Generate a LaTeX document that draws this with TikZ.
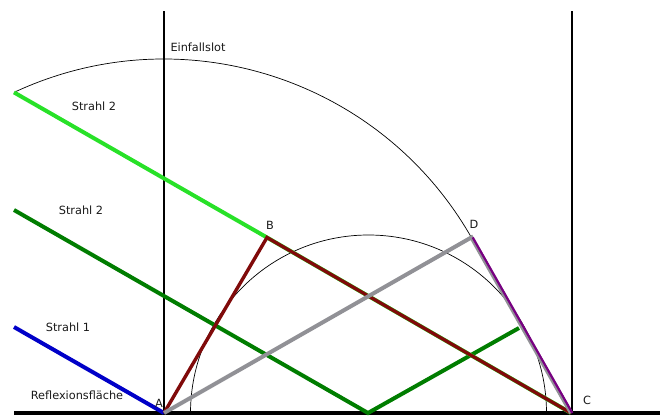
\documentclass[tikz,border=0pt]{standalone}
\usepackage{fontspec}
\setmainfont{DejaVu Sans}
\usetikzlibrary{calc}
\begin{document}
\begin{tikzpicture}[x=1pt,y=1pt,
  lbl/.style={font=\fontsize{11.3}{13}\selectfont, text=black!90, inner sep=0pt},
  ray/.style={line width=4pt, line cap=butt},
  lightg/.style={ray, draw={rgb,255:red,40;green,225;blue,40}},
  darkg/.style={ray, draw={rgb,255:red,0;green,125;blue,0}},
  blueray/.style={ray, draw={rgb,255:red,0;green,0;blue,200}},
  maroon/.style={ray, draw={rgb,255:red,128;green,10;blue,10}, line join=miter},
  greyray/.style={ray, draw={rgb,255:red,145;green,145;blue,150}, line join=miter},
  purpleray/.style={line width=2.2pt, draw={rgb,255:red,120;green,0;blue,130}},
  thinarc/.style={line width=0.7pt, draw=black},
  axis/.style={line width=1.8pt, draw=black}]
\useasboundingbox (0,0) rectangle (660,415);
% points
\coordinate (A) at (164,2);
\coordinate (C) at (571,2);
\coordinate (B) at (267,177.5);
\coordinate (D) at (471.4,177.6);
\coordinate (E) at (368,2);
\coordinate (Lt) at (164,404);
\coordinate (Rt) at (572,404);
\coordinate (Rb) at (572,2);
\coordinate (B0) at (14,2);
\coordinate (B1) at (660,2);
\coordinate (S1) at (14,88);
\coordinate (S2a) at (14,205);
\coordinate (S2b) at (14,322.6);
\coordinate (F) at (519,87);
\coordinate (M) at (368.5,2);
\coordinate (Ms) at (190.5,2);
% arcs
\draw[thinarc] (S2b) arc[start angle=115.07, end angle=29.74, radius=354];
\draw[thinarc] (Ms) arc[start angle=180, end angle=0, radius=178];
% verticals and base
\draw[axis] (A) -- (Lt);
\draw[axis] (Rb) -- (Rt);
\draw[line width=3.5pt] (B0) -- (B1);
% rays
\draw[blueray] (S1) -- (A);
\draw[darkg] (S2a) -- (E) -- (F);
\draw[lightg] (S2b) -- (B) -- (C);
\draw[maroon, line width=3.4pt] (A) -- (B) -- (C);
\draw[greyray] (A) -- (D) -- (C);
\draw[purpleray] ([xshift=1.3pt]D) -- ([xshift=1.3pt]C);
% labels
\node[lbl] (l1) at (198,368) {Einfallslot};
\node[lbl] (l2) at (94,309) {Strahl 2};
\node[lbl] (l3) at (81,205) {Strahl 2};
\node[lbl] (l4) at (68,88) {Strahl 1};
\node[lbl] (l5) at (77,20) {Reflexionsfläche};
\node[lbl] (la) at (159,12) {A};
\node[lbl] (lb) at (270,190) {B};
\node[lbl] (lc) at (587,15) {C};
\node[lbl] (ld) at (474,191) {D};
\end{tikzpicture}
\end{document}
